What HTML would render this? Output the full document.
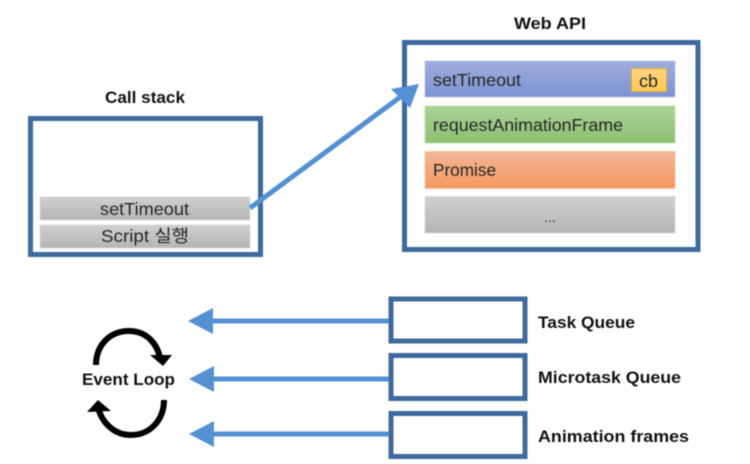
<!DOCTYPE html>
<html>
<head>
<meta charset="utf-8">
<style>
html,body{margin:0;padding:0;background:#fff;width:750px;height:464px;overflow:hidden}
svg{display:block;filter:blur(.45px)}
text{font-family:"Liberation Sans","Noto Sans CJK KR",sans-serif;fill:#262626}
.t{font-size:17.500px}
.b{font-size:17px;font-weight:bold;fill:#111}
</style>
</head>
<body>
<svg width="750" height="464" viewBox="0 0 750 464" xmlns="http://www.w3.org/2000/svg">
<defs>
<linearGradient id="gb" x1="0" y1="0" x2="0" y2="1"><stop offset="0" stop-color="#a0aedd"/><stop offset="1" stop-color="#7c92d2"/></linearGradient>
<linearGradient id="gg" x1="0" y1="0" x2="0" y2="1"><stop offset="0" stop-color="#acd296"/><stop offset="1" stop-color="#8cc072"/></linearGradient>
<linearGradient id="go" x1="0" y1="0" x2="0" y2="1"><stop offset="0" stop-color="#f3b596"/><stop offset="1" stop-color="#f4995f"/></linearGradient>
<linearGradient id="gy" x1="0" y1="0" x2="0" y2="1"><stop offset="0" stop-color="#d0d0d0"/><stop offset="1" stop-color="#b5b5b5"/></linearGradient>
<linearGradient id="gc" x1="0" y1="0" x2="0" y2="1"><stop offset="0" stop-color="#fed47e"/><stop offset="1" stop-color="#fdc957"/></linearGradient>
</defs>

<!-- Call stack -->
<text class="b" x="105" y="103" textLength="80" lengthAdjust="spacingAndGlyphs">Call stack</text>
<rect x="30.500" y="118.500" width="230" height="136" fill="#fff" stroke="#3f6a9d" stroke-width="5"/>
<rect x="40" y="197" width="210" height="23" fill="url(#gy)" stroke="#d8d8d8" stroke-width=".8"/>
<rect x="40" y="225" width="210" height="23" fill="url(#gy)" stroke="#d8d8d8" stroke-width=".8"/>
<text class="t" x="100" y="215" textLength="89" lengthAdjust="spacingAndGlyphs">setTimeout</text>
<text class="t" x="101" y="242" textLength="88" lengthAdjust="spacingAndGlyphs">Script 실행</text>

<!-- Web API -->
<text class="b" x="514" y="29" textLength="72" lengthAdjust="spacingAndGlyphs">Web API</text>
<rect x="404.500" y="42.500" width="293.500" height="207" fill="#fff" stroke="#3f6a9d" stroke-width="5"/>
<rect x="425" y="61" width="250" height="36" fill="url(#gb)" stroke="#b4c2e8" stroke-width=".8"/>
<rect x="425" y="106" width="250" height="37" fill="url(#gg)" stroke="#bcdcaa" stroke-width=".8"/>
<rect x="425" y="151.500" width="250" height="37" fill="url(#go)" stroke="#f7bc98" stroke-width=".8"/>
<rect x="425" y="196.500" width="250" height="36.500" fill="url(#gy)" stroke="#d8d8d8" stroke-width=".8"/>
<rect x="631.500" y="68.500" width="35" height="23" fill="url(#gc)" stroke="#e0ac3c" stroke-width="1"/>
<text class="t" x="433" y="86" textLength="88" lengthAdjust="spacingAndGlyphs">setTimeout</text>
<text class="t" x="639" y="87" textLength="19" lengthAdjust="spacingAndGlyphs">cb</text>
<text class="t" x="433" y="131" textLength="190" lengthAdjust="spacingAndGlyphs">requestAnimationFrame</text>
<text class="t" x="433" y="176" textLength="63" lengthAdjust="spacingAndGlyphs">Promise</text>
<text x="550" y="222" text-anchor="middle" style="font-size:14px">...</text>

<!-- Diagonal arrow -->
<line x1="250" y1="208" x2="403" y2="95" stroke="#5490d2" stroke-width="5"/>
<polygon points="419,84 391,89 410,108" fill="#5490d2"/>

<!-- Queues -->
<rect x="391" y="299" width="134" height="42" fill="#fff" stroke="#3f6a9d" stroke-width="5"/>
<rect x="391" y="355.500" width="134" height="43" fill="#fff" stroke="#3f6a9d" stroke-width="5"/>
<rect x="391" y="413.500" width="134" height="43" fill="#fff" stroke="#3f6a9d" stroke-width="5"/>
<text class="b" x="538" y="328" textLength="97" lengthAdjust="spacingAndGlyphs">Task Queue</text>
<text class="b" x="538" y="383" textLength="143" lengthAdjust="spacingAndGlyphs">Microtask Queue</text>
<text class="b" x="538" y="442" textLength="151" lengthAdjust="spacingAndGlyphs">Animation frames</text>

<!-- Queue arrows -->
<g fill="#5490d2" stroke="none">
<rect x="212" y="318.500" width="177" height="5"/>
<polygon points="188,321 213,308 213,334"/>
<rect x="212" y="376.500" width="177" height="5"/>
<polygon points="189,379 214,366 214,392"/>
<rect x="212" y="431.500" width="177" height="5"/>
<polygon points="189,434 214,421 214,447"/>
</g>

<!-- Event loop -->
<text class="b" x="82" y="385" textLength="93" lengthAdjust="spacingAndGlyphs">Event Loop</text>
<path d="M96 365 C96 345 110 331 129 331 C146 331 157 343 160 358" fill="none" stroke="#000" stroke-width="6"/>
<polygon points="163,366 150,355 172,355" fill="#000"/>
<path d="M164 400 C164 420 150 435 131 435 C113 435 101 421 98 407" fill="none" stroke="#000" stroke-width="6"/>
<polygon points="98,400 87,412 111,411" fill="#000"/>
</svg>
</body>
</html>
